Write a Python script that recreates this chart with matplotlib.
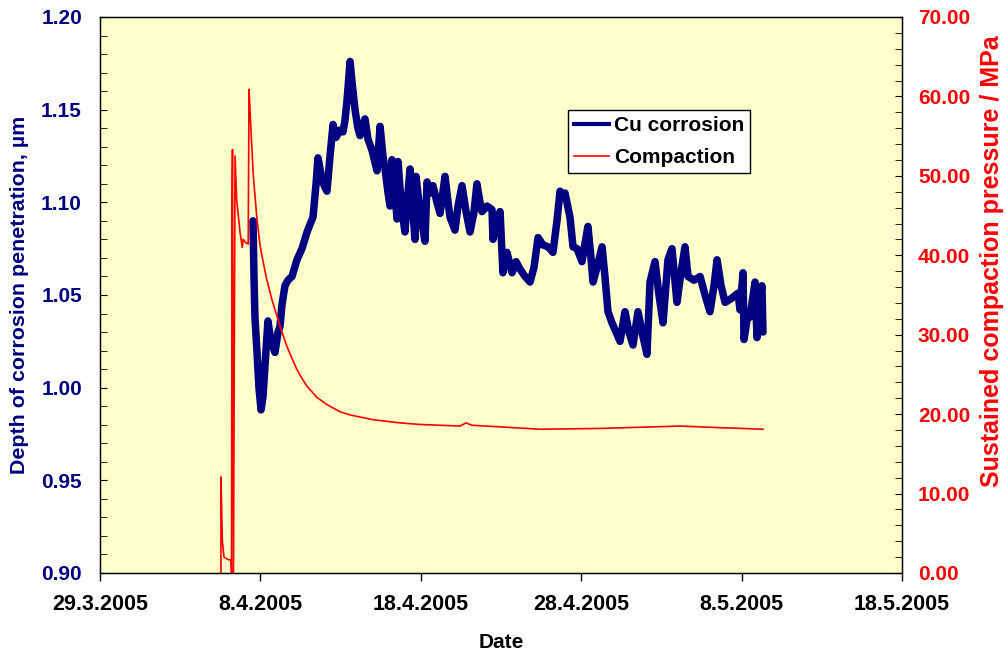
import matplotlib
matplotlib.use("Agg")
import matplotlib.pyplot as plt
from matplotlib.lines import Line2D
from matplotlib.ticker import MultipleLocator, FormatStrFormatter
import datetime as dt

plt.rcParams['font.family'] = ['Liberation Sans', 'DejaVu Sans']

# ---- data: time in days since 29.3.2005 00:00 ----
start_date = dt.datetime(2005, 3, 29)

cu_days = [
    9.54, 9.60, 9.66, 9.79, 9.91, 10.04, 10.16, 10.35, 10.47, 10.66,
    10.91, 11.10, 11.22, 11.35, 11.53, 11.72, 11.97, 12.28, 12.59, 12.91,
    13.09, 13.28, 13.47, 13.59, 13.72, 13.84, 14.03, 14.15, 14.34, 14.53,
    14.71, 14.96, 15.15, 15.27, 15.40, 15.59, 15.71, 15.90, 16.08, 16.21,
    16.40, 16.52, 16.71, 16.96, 17.27, 17.46, 17.64, 17.77, 17.96, 18.08,
    18.20, 18.39, 18.52, 18.58, 18.77, 19.01, 19.20, 19.33, 19.51, 19.64,
    19.70, 19.95, 20.26, 20.39, 20.57, 20.76, 21.01, 21.20, 21.51, 21.70,
    21.82, 22.13, 22.32, 22.57, 22.82, 23.07, 23.32, 23.50, 23.69, 23.82,
    24.13, 24.44, 24.50, 24.75, 24.94, 25.12, 25.37, 25.69, 25.94, 26.18,
    26.50, 26.81, 27.06, 27.31, 27.62, 27.93, 28.24, 28.49, 28.68, 28.87,
    28.99, 29.30, 29.49, 29.74, 30.05, 30.24, 30.42, 30.61, 30.74, 30.99,
    31.30, 31.48, 31.67, 31.92, 32.17, 32.42, 32.73, 32.98, 33.23, 33.54,
    33.79, 34.10, 34.29, 34.60, 34.85, 35.10, 35.41, 35.66, 35.97, 36.22,
    36.47, 36.66, 37.03, 37.41, 37.72, 38.03, 38.28, 38.47, 38.72, 38.97,
    39.34, 39.78, 39.90, 40.09, 40.15, 40.40, 40.52, 40.84, 40.96, 41.15,
    41.27, 41.33]
cu_depth = [
    1.090, 1.060, 1.038, 1.019, 1.000, 0.988, 0.995, 1.020, 1.036, 1.025,
    1.019, 1.030, 1.033, 1.045, 1.055, 1.058, 1.060, 1.069, 1.075, 1.084,
    1.088, 1.092, 1.110, 1.124, 1.118, 1.112, 1.108, 1.106, 1.125, 1.142,
    1.135, 1.139, 1.138, 1.144, 1.155, 1.176, 1.165, 1.150, 1.140, 1.136,
    1.142, 1.145, 1.134, 1.128, 1.117, 1.141, 1.125, 1.118, 1.105, 1.098,
    1.123, 1.105, 1.091, 1.122, 1.100, 1.084, 1.105, 1.118, 1.095, 1.080,
    1.114, 1.095, 1.079, 1.111, 1.105, 1.109, 1.100, 1.094, 1.114, 1.100,
    1.092, 1.085, 1.098, 1.109, 1.095, 1.084, 1.095, 1.110, 1.100, 1.095,
    1.098, 1.096, 1.080, 1.090, 1.095, 1.062, 1.073, 1.062, 1.068, 1.064,
    1.060, 1.057, 1.065, 1.081, 1.077, 1.076, 1.073, 1.090, 1.106, 1.104,
    1.105, 1.092, 1.076, 1.075, 1.068, 1.078, 1.087, 1.070, 1.057, 1.065,
    1.076, 1.060, 1.041, 1.035, 1.030, 1.025, 1.041, 1.030, 1.023, 1.041,
    1.030, 1.018, 1.057, 1.068, 1.050, 1.035, 1.069, 1.075, 1.046, 1.062,
    1.076, 1.060, 1.058, 1.060, 1.050, 1.041, 1.055, 1.069, 1.055, 1.046,
    1.048, 1.051, 1.042, 1.062, 1.026, 1.040, 1.038, 1.057, 1.027, 1.048,
    1.055, 1.030]

comp_days = [
    7.54, 7.54, 7.63, 7.73, 7.98, 8.17, 8.20, 8.23, 8.26, 8.32,
    8.42, 8.52, 8.73, 8.87, 8.93, 9.08, 9.24, 9.29, 9.35, 9.46,
    9.56, 9.77, 9.98, 10.18, 10.39, 10.72, 11.04, 11.35, 11.66, 11.97,
    12.28, 12.59, 12.91, 13.53, 14.15, 14.96, 15.59, 17.02, 18.70, 19.95,
    21.20, 22.44, 22.82, 23.19, 24.94, 27.43, 31.17, 36.16, 38.65, 41.33]
comp_mpa = [
    0.0, 12.1, 4.0, 2.0, 1.7, 1.6, 0.0, 46.0, 53.3, 0.0,
    52.5, 47.0, 42.9, 41.0, 42.0, 41.6, 41.4, 60.9, 58.4, 53.8,
    50.0, 44.9, 41.2, 39.1, 37.0, 34.4, 32.3, 30.3, 28.5, 27.0,
    25.6, 24.5, 23.5, 22.1, 21.2, 20.3, 19.9, 19.3, 18.9, 18.7,
    18.6, 18.5, 18.9, 18.6, 18.4, 18.1, 18.2, 18.5, 18.3, 18.1]

x_ticks = ["29.3.2005", "8.4.2005", "18.4.2005", "28.4.2005", "8.5.2005", "18.5.2005"]

cu_dates = [start_date + dt.timedelta(days=d) for d in cu_days]
comp_dates = [start_date + dt.timedelta(days=d) for d in comp_days]
tick_dates = [dt.datetime.strptime(s, "%d.%m.%Y") for s in x_ticks]

NAVY = "#000080"
RED = "#FF0000"

fig = plt.figure(figsize=(10.06, 6.55), dpi=100)
ax = fig.add_axes([100/1006, 1-573/655, 802/1006, 556/655])
ax.set_facecolor("#FFFFCC")
ax2 = ax.twinx()

l1, = ax.plot(cu_dates, cu_depth, color=NAVY, lw=5.4, solid_joinstyle='round',
              solid_capstyle='round', label="Cu corrosion")
l2, = ax2.plot(comp_dates, comp_mpa, color=RED, lw=1.2, label="Compaction")

ax.set_xlim(tick_dates[0], tick_dates[-1])
ax.set_ylim(0.90, 1.20)
ax2.set_ylim(0, 70)

ax.set_xticks(tick_dates)
ax.set_xticklabels(x_ticks, fontsize=15.5, fontweight='bold')
ax.tick_params(axis='x', direction='out', length=6, width=1, pad=9)

ax.yaxis.set_major_locator(MultipleLocator(0.05))
ax.yaxis.set_minor_locator(MultipleLocator(0.01))
ax.yaxis.set_major_formatter(FormatStrFormatter('%.2f'))
ax.tick_params(axis='y', which='both', direction='in', labelsize=15, labelcolor=NAVY,
               pad=13, length=5)
for t in ax.get_yticklabels():
    t.set_fontweight('bold')

ax2.yaxis.set_major_locator(MultipleLocator(10))
ax2.yaxis.set_minor_locator(MultipleLocator(2))
ax2.yaxis.set_major_formatter(FormatStrFormatter('%.2f'))
ax2.tick_params(axis='y', which='both', direction='in', labelsize=15, labelcolor=RED,
                pad=11.5, length=5)
for t in ax2.get_yticklabels():
    t.set_fontweight('bold')

ax.set_xlabel("Date", fontsize=15, fontweight='bold', labelpad=13)
ax.set_ylabel("Depth of corrosion penetration, µm", fontsize=15.4, fontweight='bold',
              color=NAVY, va='center')
ax.yaxis.set_label_coords((19.5 - 100) / 802, 0.5)
ax2.set_ylabel("Sustained compaction pressure / MPa", fontsize=18, fontweight='bold',
               color=RED, va='center')
ax2.yaxis.set_label_coords((992 - 100) / 802, (573 - 261) / 556)

for sp in ax.spines.values():
    sp.set_color('black')
    sp.set_linewidth(1)

leg_h1 = Line2D([], [], color=NAVY, lw=3.0)
leg_h2 = Line2D([], [], color=RED, lw=1.2)
leg = ax2.legend([leg_h1, leg_h2], [l1.get_label(), l2.get_label()],
                 loc='upper left', bbox_to_anchor=((568 - 100) / 802, (573 - 110) / 556),
                 prop={'size': 15, 'weight': 'bold'}, frameon=True, fancybox=False,
                 edgecolor='black', framealpha=1, handlelength=1.65, handletextpad=0.25,
                 labelspacing=0.62, borderpad=0.3, borderaxespad=0)
leg.get_frame().set_linewidth(1)

fig.savefig("out.png", dpi=100, facecolor='white')
